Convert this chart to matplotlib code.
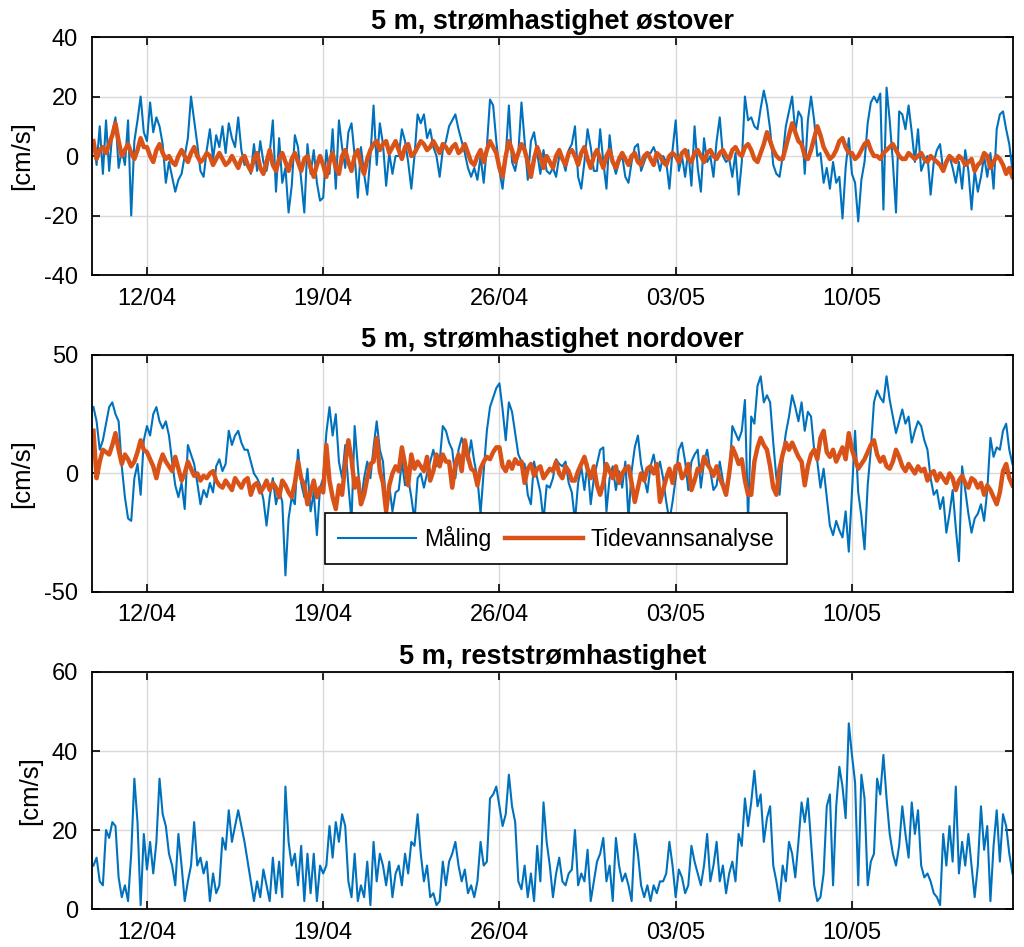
import numpy as np
import pandas as pd
import matplotlib
matplotlib.use("Agg")
import matplotlib.pyplot as plt
import matplotlib.dates as mdates

plt.rcParams['font.family'] = ['Liberation Sans', 'DejaVu Sans']
plt.rcParams['axes.unicode_minus'] = False

# Tidsakse: 3-timers verdier fra 09/04 21:00
start = "2021-04-09 21:00"

# Øst-komponent, måling [cm/s]
ost_maling = [
    5,
    -3, 10, -6, 12, -5, 8, 13, -4,      # 10/04
    2, -3, 12, -20, 5, 12, 20, 8,       # 11/04
    5, 18, 8, 13, 10, 4, -9, -2,        # 12/04
    -7, -12, -8, -6, 0, 6, 20, 12,      # 13/04
    4, -5, -7, 2, 9, -1, 7, 3,          # 14/04
    10, 1, 11, 6, 3, 13, 2, -3,         # 15/04
    -2, -6, 4, -5, 5, -2, -5, 1,        # 16/04
    12, -12, 6, -9, -4, -19, -10, 7,    # 17/04
    3, -8, -19, 4, -6, 2, -9, -15,      # 18/04
    -14, 2, -6, 9, -11, 12, 3, -4,      # 19/04
    8, 11, 0, -14, 3, -6, -13, 0,       # 20/04
    17, -3, 11, 4, -10, 1, -6, 0,       # 21/04
    0, 9, 5, -2, -11, 0, 14, 11,        # 22/04
    14, 6, 9, 3, 0, -7, 2, 5,           # 23/04
    10, 12, 14, 9, 5, 1, -4, -7,        # 24/04
    -4, -8, 0, -9, 3, 19, 17, 5,        # 25/04
    -5, -11, 0, 17, -2, -5, 1, 18,      # 26/04
    5, -8, 5, 8, 1, -6, 2, -5,          # 27/04
    -6, -4, -7, 0, -1, -5, 2, 4,        # 28/04
    10, -7, -11, -2, 9, 3, -5, -5,      # 29/04
    9, -2, -11, 7, -2, -6, -2, 0,       # 30/04
    -7, -9, -2, 3, 4, -5, -2, 1,        # 01/05
    1, 3, 0, -5, 0, -2, -11, 2,         # 02/05
    12, -5, 0, -7, 2, -10, 10, -4,      # 03/05
    -12, 6, -2, 0, -7, 5, 13, 0,        # 04/05
    -2, -1, -7, 1, -13, -2, 20, 12,     # 05/05
    13, 10, 9, 16, 22, 17, 9, -3,       # 06/05
    -6, -7, 0, 10, 15, 20, 8, 15,       # 07/05
    13, -6, 12, 20, 12, 0, 1, -9,       # 08/05
    -4, -11, -2, -9, -7, -21, -4, 6,    # 09/05
    -6, -9, -22, -8, -2, 11, 18, 20,    # 10/05
    18, 21, -18, 23, 12, -2, -19, 15,   # 11/05
    14, 9, 17, 8, -2, 9, -5, -2,        # 12/05
    0, -13, -2, 2, 4, -5, -2, 0,        # 13/05
    -4, -9, -2, -11, 2, -5, -18, -5,    # 14/05
    -12, -7, 0, -7, 1, -11, 9, 14,      # 15/05
    15, 9, 4, -5,                       # 16/05
]

# Øst-komponent, tidevannsanalyse
ost_tide = [
    5,
    -1, 2, 3, 1, 4, 7, 11, 5,
    0, 2, 4, 1, -1, 2, 6, 3,
    3, 0, -2, 2, 4, 1, -1, 0,
    -2, -3, 0, 2, 0, -2, 1, 3,
    0, -2, -1, 1, 0, -3, -1, 1,
    -1, -3, -2, 0, -2, -4, -1, 0,
    -3, -5, -1, 1, -4, -6, -2, 2,
    -3, -5, -1, 1, -2, -5, -1, 1,
    -2, -5, -1, 0, -4, -7, -3, 0,
    -3, -7, -2, 1, -4, -6, 0, 2,
    -2, -5, 0, 2, -3, -6, -1, 2,
    4, 5, 2, 4, 5, 1, 3, 5,
    2, -1, 3, 4, 0, 1, 3, 5,
    4, 2, 3, 5, 3, 1, 4, 3,
    1, 3, 4, 1, 2, 4, 1, -2,
    -3, 0, 2, -2, 2, 5, 3, 1,
    -4, -7, 0, 5, 2, -2, 1, 4,
    2, -2, -7, -1, 3, 0, -4, 0,
    -2, -4, 0, 2, -1, -3, 1, 2,
    0, -3, 1, 3, -1, -4, 0, 2,
    -1, -4, 0, 2, -2, -4, -1, 1,
    -1, -3, 0, 1, -2, -3, 0, 1,
    -1, -3, 1, 0, -2, -3, 0, 1,
    0, -2, 1, 2, -1, -2, 1, 2,
    0, -2, 1, 2, 0, -1, 1, 2,
    0, -1, 2, 3, 1, 0, 3, 4,
    2, -1, -2, 1, 4, 8, 5, 2,
    0, -1, -1, 3, 7, 11, 8, 5,
    4, 0, -1, 2, 6, 10, 7, 3,
    1, -1, 0, 2, 5, 6, 3, 1,
    1, -1, 0, 2, 4, 5, 2, 0,
    0, -1, 1, 2, 3, 4, 2, 0,
    -1, -1, 1, 0, -1, 0, 1, -1,
    -2, 0, -1, -2, -3, -5, -2, 0,
    -1, -2, 0, -1, -3, -2, -1, -5,
    -3, -2, 1, 0, -4, -2, 0, -1,
    -3, -6, -4, -7,
]

# Nord-komponent, måling
nord_maling = [
    28,
    22, 10, 14, 21, 28, 30, 25, 22,
    3, -10, -19, -20, -2, 4, -9, 14,
    20, 16, 25, 28, 22, 19, 22, 16,
    5, -5, -10, -4, -15, 12, 8, 4,
    -4, -13, -7, -10, -4, -8, 3, 6,
    1, 4, 18, 12, 16, 18, 13, 10,
    10, 5, 0, -2, -5, -11, -22, -10,
    -2, -13, -7, -12, -43, -19, -10, -13,
    10, -4, -10, 2, -16, -8, -26, -6,
    -2, 17, 28, 16, 25, 5, -2, 12,
    -5, -20, 20, 3, -12, -2, 5, -2,
    11, 22, 10, 5, -13, -5, -16, -8,
    -7, 5, -5, -2, -10, -20, -2, 0,
    -6, 0, 5, 10, 3, 5, 20, 18,
    13, 10, -2, 10, 15, 10, 5, 14,
    5, -2, -17, 1, 18, 28, 32, 36,
    38, 27, 14, 30, 26, 17, 8, 5,
    4, -9, -13, 5, -2, -8, -20, -5,
    -6, -2, 6, 4, 3, 5, -4, -8,
    -20, -4, 3, -7, 4, -13, -2, 4,
    10, 11, -16, -2, 3, -7, 1, -6,
    5, -19, 1, 11, 16, 4, -2, -8,
    3, 8, 0, 5, -2, -12, -20, -12,
    -2, 10, 13, 5, -7, 5, 8, 10,
    -6, 5, 10, 1, -7, -5, 5, -3,
    -9, -2, 20, 17, 14, 18, 31, -20,
    24, 21, 37, 41, 30, 33, 30, 13,
    -2, -9, 7, 17, 24, 33, 28, 22,
    30, 18, 26, 24, 10, 5, -6, 2,
    -10, -22, -26, -20, -24, -27, -16, -33,
    -8, 18, -8, -18, -32, -5, 10, 30,
    35, 32, 30, 41, 31, 24, 17, 22,
    27, 21, 24, 13, 18, 22, 20, 14,
    10, -2, -9, -7, -15, -10, -25, -17,
    -7, -23, -37, 3, -7, -17, -25, -19,
    -17, -13, -20, -7, 15, 7, 11, 10,
    18, 21, 10, 4,
]

# Nord-komponent, tidevannsanalyse
nord_tide = [
    18,
    -2, 5, 10, 9, 8, 12, 17, 10,
    4, 8, 6, 3, 5, 9, 14, 10,
    9, 6, 3, -2, 4, 8, 5, 3,
    1, 7, 2, -3, 0, 5, 2, -1,
    0, -3, -1, -2, 0, 1, -3, -5,
    -6, -3, -5, -7, -2, -4, -6, -3,
    -2, -9, -5, -4, -8, -6, -3, -7,
    -4, -6, -10, -3, -5, -8, -10, -4,
    5, -2, -5, -13, -8, -3, -10, -6,
    -8, 12, -3, -10, -15, -5, -9, 4,
    14, 6, -6, -2, -13, -9, -2, 4,
    5, 15, 1, -4, -16, -5, 0, 3,
    1, 11, 4, -5, 8, 2, 5, 3,
    1, 7, -3, 1, 8, 3, 8, 5,
    5, -6, 4, 8, 1, 14, 7, 2,
    1, -5, 2, 5, 7, 6, 9, 11,
    11, 3, 1, 5, 2, 6, 4, 5,
    -4, 2, 4, -1, 2, 3, -2, 0,
    2, 1, 5, 0, -2, 3, 1, -3,
    -3, 1, 4, 7, 2, -2, 3, -5,
    -9, -4, 4, 1, -2, 3, -4, 0,
    2, 3, -4, -12, -6, 0, -3, 2,
    3, 0, 4, -12, -7, -2, 2, -4,
    3, 4, -2, 0, 4, -7, -3, 2,
    1, 7, 4, 2, -1, 3, -2, -5,
    -9, 0, 11, 8, 4, 6, -3, -9,
    -9, 5, 11, 15, 12, 10, 3, -6,
    -9, 2, 8, 13, 10, 13, 10, 7,
    5, -5, 3, 8, 10, 6, 15, 18,
    9, 7, 10, 5, 8, 11, 6, 17,
    10, 6, 2, 4, 6, 9, 12, 14,
    8, 5, 7, 3, 2, 5, 10, 7,
    3, 1, 4, 2, 0, 3, 1, 2,
    -3, 0, 1, -3, 0, -2, -4, 0,
    -2, -7, -3, -1, -4, -6, -2, -3,
    -6, -4, -9, -5, -7, -10, -13, -8,
    1, 4, -2, -5,
]

# Reststrømhastighet
reststrom = [
    11,
    13, 7, 6, 20, 18, 22, 21, 8,
    3, 6, 2, 14, 33, 22, 1, 19,
    10, 17, 9, 17, 33, 24, 21, 14,
    11, 6, 19, 11, 2, 7, 11, 22,
    11, 13, 9, 12, 2, 9, 4, 6,
    18, 15, 25, 17, 21, 25, 21, 17,
    12, 7, 2, 7, 3, 10, 6, 2,
    13, 4, 12, 3, 31, 17, 11, 14,
    6, 16, 2, 14, 4, 14, 2, 11,
    9, 11, 21, 13, 22, 17, 24, 21,
    7, 3, 14, 2, 6, 3, 12, 1,
    17, 7, 14, 11, 6, 12, 3, 9,
    11, 6, 14, 9, 17, 16, 24, 14,
    7, 11, 3, 4, 1, 2, 12, 6,
    12, 14, 17, 11, 7, 10, 4, 6,
    3, 7, 17, 11, 12, 28, 29, 31,
    26, 21, 24, 34, 26, 22, 7, 5,
    11, 3, 9, 2, 16, 7, 27, 17,
    11, 3, 9, 13, 7, 6, 9, 10,
    20, 6, 9, 7, 15, 2, 7, 12,
    14, 18, 7, 11, 2, 18, 11, 7,
    9, 6, 2, 19, 14, 6, 3, 6,
    2, 6, 4, 7, 7, 9, 17, 11,
    3, 10, 8, 4, 6, 16, 12, 9,
    6, 11, 19, 7, 11, 17, 7, 11,
    4, 9, 12, 7, 19, 16, 28, 21,
    27, 35, 26, 29, 17, 23, 26, 11,
    7, 2, 11, 7, 17, 14, 8, 17,
    27, 22, 28, 17, 6, 2, 3, 9,
    26, 29, 6, 26, 36, 31, 23, 47,
    39, 32, 6, 34, 28, 6, 12, 14,
    33, 29, 39, 28, 19, 14, 11, 16,
    26, 19, 13, 27, 19, 25, 11, 8,
    9, 7, 4, 3, 1, 19, 11, 21,
    12, 31, 9, 17, 11, 19, 11, 3,
    11, 26, 15, 21, 2, 16, 25, 12,
    24, 21, 14, 9,
]

titler = ["5 m, strømhastighet østover",
          "5 m, strømhastighet nordover",
          "5 m, reststrømhastighet"]
y_ticks = [[-40, -20, 0, 20, 40], [-50, 0, 50], [0, 20, 40, 60]]
x_ticks = ["2021-04-12", "2021-04-19", "2021-04-26", "2021-05-03", "2021-05-10"]

tid = pd.date_range(start, periods=len(ost_maling), freq="3h")

blaa = "#0072BD"
oransje = "#D95319"

fig = plt.figure(figsize=(10.24, 9.47), dpi=100)
pos = [[0.0898, 0.7096, 0.8994, 0.2513],
       [0.0898, 0.3749, 0.8994, 0.2503],
       [0.0898, 0.0401, 0.8994, 0.2503]]
axes = [fig.add_axes(p) for p in pos]

axes[0].plot(tid, ost_maling, color=blaa, lw=1.5, label="Måling")
axes[0].plot(tid, ost_tide, color=oransje, lw=3.2, label="Tidevannsanalyse")
axes[1].plot(tid, nord_maling, color=blaa, lw=1.5, label="Måling")
axes[1].plot(tid, nord_tide, color=oransje, lw=3.2, label="Tidevannsanalyse")
axes[2].plot(tid, reststrom, color=blaa, lw=1.5)

for ax, tittel, yt in zip(axes, titler, y_ticks):
    ax.set_xlim(pd.Timestamp("2021-04-09 19:35"), pd.Timestamp("2021-05-16 09:28"))
    ax.set_ylim(yt[0], yt[-1])
    ax.set_yticks(yt)
    ax.set_xticks(pd.to_datetime(x_ticks))
    ax.xaxis.set_major_formatter(mdates.DateFormatter("%d/%m"))
    ax.grid(True, color="#d9d9d9", lw=1.0)
    ax.set_axisbelow(True)
    ax.tick_params(direction="in", top=True, right=True, length=6, width=1.2,
                   labelsize=17)
    ax.tick_params(axis="y", pad=10)
    ax.tick_params(axis="x", pad=9)
    for s in ax.spines.values():
        s.set_linewidth(1.3)
    ax.set_title(tittel, fontsize=19.5, fontweight="bold", pad=6)
    ax.set_ylabel("[cm/s]", fontsize=18.5, labelpad=7)

leg = axes[1].legend(loc="lower center", bbox_to_anchor=(0.504, 0.12), ncol=2,
                     fontsize=16.5, frameon=True, fancybox=False, framealpha=1,
                     edgecolor="black", handlelength=3.4, handletextpad=0.35,
                     columnspacing=0.6, borderpad=0.55, borderaxespad=0)
leg.get_frame().set_linewidth(1.2)

fig.savefig("out.png", dpi=100)
